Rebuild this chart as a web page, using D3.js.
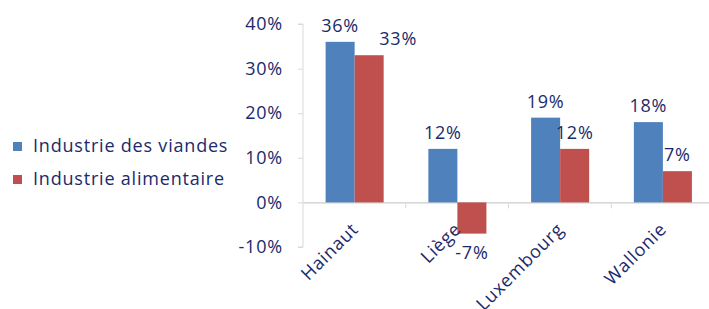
<!DOCTYPE html>
<html><head><meta charset="utf-8">
<script src="https://cdn.jsdelivr.net/npm/d3@7"></script>
<style>body{margin:0;background:#fff;} svg{display:block;}</style>
</head><body>
<svg id="chart" width="709" height="309"></svg>
<script>
const categories = ["Hainaut", "Liège", "Luxembourg", "Wallonie"];
const seriesNames = ["Industrie des viandes", "Industrie alimentaire"];
const viandes = [36, 12, 19, 18];
const alimentaire = [33, -7, 12, 7];
const yTicks = [-10, 0, 10, 20, 30, 40];

(function () {
const colors = ["#4F81BD", "#C0504D"];
const textColor = "#1B2A6B";
const font = "'Open Sans', sans-serif";
const fs = 18;
const ls = "0.8px";

function styleText(sel) {
  return sel.attr("fill", textColor).style("font-family", font)
    .style("font-size", fs + "px").style("letter-spacing", ls);
}

const svg = d3.select("#chart");
const mLeft = 303, mRight = 714, mTop = 24, mBottom = 247;

const x = d3.scaleBand().domain(categories).range([mLeft, mRight]).paddingInner(0).paddingOuter(0);
const y = d3.scaleLinear().domain([-10, 40]).range([mBottom, mTop]);
const inner = d3.scaleBand().domain([0, 1]).range([x.bandwidth()*0.22, x.bandwidth()*0.785]);

const yAxis = d3.axisLeft(y).tickValues(yTicks).tickFormat(d => d + "%").tickSize(5).tickPadding(15);
const gy = svg.append("g").attr("transform", `translate(${mLeft},0)`).call(yAxis);
gy.select(".domain").attr("stroke", "#d9d9d9").attr("d", `M-5,${y(40)}H0V${y(-10)}H-5`);
gy.selectAll(".tick line").attr("stroke", "#d9d9d9");
styleText(gy.selectAll(".tick text"));

const xAxis = d3.axisBottom(x).tickSize(0).tickFormat("");
const gx = svg.append("g").attr("transform", `translate(0,${y(0)})`).call(xAxis);
gx.select(".domain").attr("stroke", "#bfbfbf");
gx.selectAll(".tick").remove();
const tickPos = categories.map(c => x(c)).concat([x(categories[categories.length-1]) + x.bandwidth()]);
gx.selectAll(".ctick").data(tickPos.slice(1)).enter().append("line")
  .attr("x1", d => d).attr("x2", d => d).attr("y1", 0).attr("y2", 6).attr("stroke", "#d9d9d9");

const series = [viandes, alimentaire];
const labelDx = {"1-0": 29};

series.forEach((vals, s) => {
  const g = svg.append("g");
  g.selectAll("rect").data(vals).enter().append("rect")
    .attr("x", (d, i) => x(categories[i]) + inner(s))
    .attr("width", inner.bandwidth())
    .attr("y", d => y(Math.max(0, d)))
    .attr("height", d => Math.abs(y(d) - y(0)))
    .attr("fill", colors[s]);
  styleText(g.selectAll("text").data(vals).enter().append("text")
    .attr("x", (d, i) => x(categories[i]) + inner(s) + inner.bandwidth()/2 + (labelDx[s + "-" + i] || 0))
    .attr("y", d => d >= 0 ? y(d) - 10 : y(d) + 25)
    .attr("text-anchor", "middle")
    .text(d => d + "%"));
});

styleText(svg.append("g").selectAll("text").data(categories).enter().append("text")
  .attr("transform", d => `translate(${x(d) + x.bandwidth()/2 + 5},${y(0) + 28}) rotate(-45)`)
  .attr("text-anchor", "end")
  .text(d => d));

const lg = svg.append("g");
seriesNames.forEach((n, i) => {
  const yy = 146 + i * 33;
  lg.append("rect").attr("x", 13).attr("y", yy - 4).attr("width", 9).attr("height", 9).attr("fill", colors[i]);
  styleText(lg.append("text").attr("x", 33).attr("y", yy).attr("dy", "0.35em").text(n));
});
})();
</script>
</body></html>
